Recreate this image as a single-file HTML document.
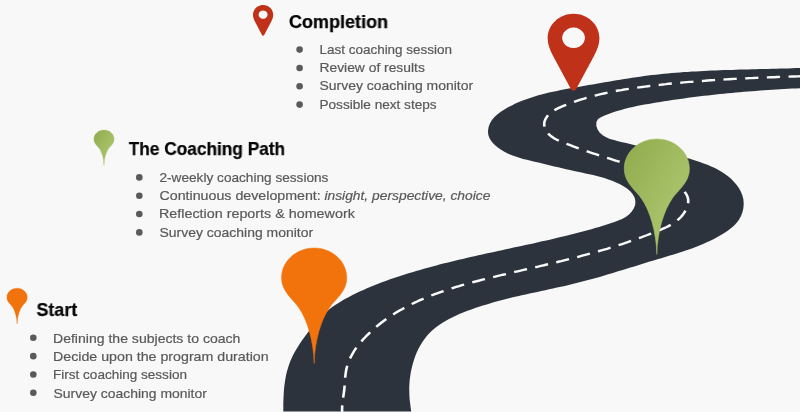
<!DOCTYPE html>
<html lang="en"><head><meta charset="utf-8"><title>The Coaching Path</title>
<style>
html,body{margin:0;padding:0}
body{width:800px;height:412px;overflow:hidden;background:#f8f8f8;position:relative;font-family:"Liberation Sans",Arial,sans-serif}
svg.art{position:absolute;left:0;top:0}
.h{position:absolute;font-weight:bold;font-size:18.1px;line-height:20px;color:#060606;-webkit-text-stroke:0.25px #060606;white-space:nowrap;margin:0;transform-origin:0 50%;will-change:transform}
ul{position:absolute;margin:0;padding:0;list-style:none}
li{position:relative;height:18.33px;line-height:18.33px;font-size:12.8px;color:#595959;white-space:nowrap}
li .t{display:inline-block;transform-origin:0 50%;will-change:transform;-webkit-text-stroke:0.2px #595959}
</style></head><body>
<svg class="art" width="800" height="412" viewBox="0 0 800 412">
<defs>
<linearGradient id="gg" x1="0" y1="0" x2="1" y2="1"><stop offset="0" stop-color="#8fab4c"/><stop offset="0.6" stop-color="#a6c067"/><stop offset="1" stop-color="#abc56e"/></linearGradient>
<path id="pin" d="M0,0 C18.00,0.00 32.60,13.20 32.60,29.50 C32.60,43.50 20.90,50.90 15.30,59.20 C7.00,71.00 0.50,92.00 0.00,114.50 C-0.50,92.00 -7.00,71.00 -15.30,59.20 C-20.90,50.90 -32.60,43.50 -32.60,29.50 C-32.60,13.20 -18.00,0.00 0.00,0.00 Z"/>
<path id="mark" d="M0,0 C14.3,0 25.9,11 25.9,24.5 C25.9,31 23.5,36.3 20.3,42.5 L3.2,74.2 C2.2,77.9 -2.2,77.9 -3.2,74.2 L-20.3,42.5 C-23.5,36.3 -25.9,31 -25.9,24.5 C-25.9,11 -14.3,0 0,0 Z M0,13.85 A11.4,10.25 0 1 0 0.01,13.85 Z" fill-rule="evenodd"/>
</defs>
<path d="M283.4,416.0 L283.3,412.0 L283.3,408.1 L283.3,404.1 L283.4,400.1 L283.6,396.0 L283.8,392.0 L284.1,387.9 L284.6,383.9 L285.2,379.9 L285.9,375.9 L286.8,372.0 L287.9,368.2 L289.1,364.4 L290.5,360.7 L292.2,357.1 L293.9,353.6 L295.9,350.1 L297.9,346.7 L300.1,343.3 L302.3,340.0 L304.7,336.7 L307.1,333.4 L309.6,330.2 L312.1,327.1 L314.7,323.9 L317.3,320.9 L320.0,317.9 L322.8,315.1 L325.7,312.4 L328.8,309.8 L331.9,307.3 L335.2,305.0 L338.5,302.9 L342.0,300.8 L345.4,298.8 L349.0,296.9 L352.5,295.1 L356.1,293.3 L359.7,291.6 L363.4,289.9 L367.0,288.3 L370.7,286.7 L374.4,285.2 L378.2,283.8 L381.9,282.3 L385.7,280.9 L389.4,279.6 L393.2,278.3 L397.0,277.0 L400.9,275.8 L404.7,274.5 L408.5,273.3 L412.3,272.2 L416.2,271.0 L420.0,269.9 L423.9,268.8 L427.8,267.7 L431.6,266.7 L435.5,265.7 L439.4,264.6 L443.3,263.6 L447.1,262.7 L451.0,261.7 L454.9,260.8 L458.8,259.8 L462.7,258.9 L466.6,258.0 L470.5,257.1 L474.5,256.2 L478.4,255.3 L482.3,254.4 L486.2,253.6 L490.1,252.7 L494.0,251.9 L498.0,251.0 L501.9,250.2 L505.8,249.3 L509.7,248.5 L513.6,247.6 L517.5,246.8 L521.5,245.9 L525.4,245.1 L529.3,244.2 L533.2,243.4 L537.1,242.5 L541.0,241.6 L544.9,240.8 L548.8,239.9 L552.7,239.0 L556.6,238.1 L560.5,237.1 L564.3,236.2 L568.2,235.2 L572.1,234.3 L576.0,233.3 L579.8,232.3 L583.7,231.3 L587.5,230.3 L591.4,229.2 L595.2,228.1 L599.1,227.0 L602.9,225.8 L606.8,224.6 L610.6,223.3 L614.5,222.0 L618.3,220.6 L622.1,219.0 L625.7,217.0 L629.0,214.5 L631.8,211.5 L633.9,208.2 L635.2,204.7 L635.4,201.1 L634.6,197.6 L632.9,194.4 L630.5,191.4 L627.4,188.8 L623.9,186.4 L620.1,184.3 L616.1,182.5 L612.2,180.8 L608.3,179.4 L604.5,178.1 L600.7,177.0 L596.9,176.0 L593.1,175.1 L589.3,174.2 L585.5,173.4 L581.7,172.6 L577.8,171.8 L574.0,170.9 L570.0,170.1 L566.1,169.2 L562.2,168.3 L558.2,167.3 L554.2,166.4 L550.3,165.5 L546.3,164.5 L542.4,163.6 L538.5,162.6 L534.6,161.7 L530.7,160.7 L526.9,159.8 L523.1,158.9 L519.4,157.8 L515.6,156.6 L511.9,155.3 L508.2,153.7 L504.4,151.8 L500.7,149.6 L497.2,147.1 L494.0,144.3 L491.4,141.3 L489.4,138.0 L488.2,134.4 L488.0,130.7 L488.6,127.0 L489.9,123.4 L491.9,120.0 L494.5,117.0 L497.5,114.2 L500.8,111.7 L504.4,109.4 L508.1,107.3 L511.8,105.4 L515.4,103.6 L519.0,102.0 L522.7,100.5 L526.4,99.2 L530.1,97.9 L533.8,96.7 L537.6,95.6 L541.4,94.5 L545.3,93.5 L549.1,92.6 L553.0,91.7 L557.0,90.9 L560.9,90.1 L564.9,89.3 L568.8,88.6 L572.8,87.9 L576.8,87.2 L580.8,86.5 L584.7,85.8 L588.7,85.1 L592.7,84.4 L596.6,83.7 L600.6,83.0 L604.5,82.3 L608.5,81.7 L612.4,81.0 L616.4,80.3 L620.3,79.7 L624.3,79.0 L628.2,78.4 L632.2,77.8 L636.1,77.2 L640.1,76.7 L644.0,76.1 L648.0,75.6 L651.9,75.1 L655.9,74.7 L659.9,74.2 L663.9,73.8 L667.8,73.4 L671.8,73.1 L675.8,72.7 L679.8,72.4 L683.8,72.1 L687.8,71.9 L691.8,71.6 L695.8,71.4 L699.8,71.2 L703.8,70.9 L707.8,70.8 L711.8,70.6 L715.8,70.4 L719.9,70.3 L723.9,70.1 L727.9,70.0 L731.9,69.9 L735.9,69.7 L739.9,69.6 L743.9,69.5 L748.0,69.4 L752.0,69.3 L756.0,69.2 L760.0,69.1 L764.0,69.0 L768.0,68.9 L772.0,68.8 L776.0,68.7 L780.0,68.6 L784.0,68.5 L788.0,68.4 L792.0,68.3 L796.0,68.1 L800.0,68.0 L804.0,67.8 L804.0,88.1 L800.0,88.2 L796.0,88.4 L792.0,88.6 L788.0,88.8 L784.0,89.0 L780.0,89.3 L776.0,89.5 L772.0,89.7 L768.0,90.0 L764.0,90.3 L760.0,90.6 L756.0,90.9 L751.9,91.2 L747.9,91.5 L743.9,91.8 L739.9,92.2 L735.9,92.5 L731.9,92.9 L727.9,93.3 L723.9,93.7 L719.9,94.1 L715.9,94.5 L711.9,94.9 L707.9,95.4 L703.9,95.8 L699.9,96.3 L695.9,96.8 L691.9,97.3 L687.9,97.8 L684.0,98.4 L680.0,98.9 L676.0,99.5 L672.1,100.1 L668.1,100.7 L664.2,101.3 L660.2,101.9 L656.3,102.6 L652.4,103.2 L648.5,103.9 L644.5,104.6 L640.6,105.3 L636.7,106.1 L632.8,106.9 L628.9,107.8 L625.0,108.8 L621.1,109.9 L617.1,111.1 L613.2,112.3 L609.2,113.7 L605.2,115.3 L601.3,117.0 L598.1,119.1 L596.4,122.1 L596.3,125.7 L597.6,129.4 L599.8,132.7 L602.7,135.3 L606.1,137.3 L609.9,138.9 L614.0,140.1 L618.1,141.2 L622.2,142.2 L626.2,143.1 L630.1,144.0 L633.9,145.0 L637.8,145.9 L641.6,146.7 L645.5,147.6 L649.3,148.5 L653.2,149.4 L657.1,150.3 L661.0,151.2 L664.8,152.1 L668.7,153.1 L672.6,154.0 L676.5,155.0 L680.4,156.1 L684.3,157.2 L688.2,158.3 L692.1,159.5 L695.9,160.7 L699.8,162.0 L703.7,163.4 L707.5,164.8 L711.2,166.4 L714.9,168.1 L718.5,170.0 L721.9,172.0 L725.2,174.2 L728.4,176.6 L731.3,179.1 L734.1,182.0 L736.7,185.0 L739.0,188.3 L740.9,191.8 L742.4,195.6 L743.4,199.6 L743.7,203.7 L743.4,208.0 L742.5,212.1 L741.0,216.0 L739.1,219.6 L736.7,222.8 L733.9,225.7 L730.9,228.3 L727.7,230.7 L724.3,232.9 L720.9,235.0 L717.4,237.0 L713.9,238.9 L710.3,240.7 L706.7,242.3 L703.1,244.0 L699.4,245.5 L695.7,247.0 L691.9,248.4 L688.1,249.7 L684.3,251.0 L680.5,252.3 L676.7,253.5 L672.8,254.7 L669.0,255.8 L665.1,257.0 L661.3,258.2 L657.4,259.3 L653.5,260.5 L649.7,261.6 L645.8,262.8 L642.0,264.0 L638.1,265.2 L634.3,266.4 L630.4,267.6 L626.6,268.8 L622.7,269.9 L618.9,271.1 L615.1,272.3 L611.2,273.5 L607.4,274.6 L603.5,275.7 L599.7,276.9 L595.8,278.0 L592.0,279.0 L588.1,280.1 L584.2,281.1 L580.3,282.1 L576.5,283.1 L572.6,284.0 L568.7,285.0 L564.8,285.9 L560.9,286.7 L557.0,287.6 L553.0,288.5 L549.1,289.3 L545.2,290.2 L541.3,291.0 L537.4,291.9 L533.5,292.7 L529.5,293.6 L525.6,294.4 L521.7,295.3 L517.8,296.2 L513.9,297.1 L510.0,298.1 L506.1,299.0 L502.2,300.0 L498.3,301.1 L494.4,302.1 L490.6,303.2 L486.7,304.4 L482.8,305.6 L479.0,306.8 L475.1,308.1 L471.3,309.4 L467.5,310.8 L463.7,312.3 L459.9,313.8 L456.2,315.5 L452.6,317.2 L449.0,319.0 L445.5,320.9 L442.1,323.0 L438.8,325.2 L435.7,327.6 L432.7,330.1 L429.8,332.8 L427.2,335.6 L424.7,338.7 L422.4,341.9 L420.3,345.4 L418.3,349.0 L416.6,352.7 L415.1,356.5 L413.8,360.4 L412.6,364.4 L411.6,368.4 L410.8,372.3 L410.2,376.2 L409.7,380.1 L409.4,384.1 L409.2,388.0 L409.3,392.0 L409.4,395.9 L409.7,400.0 L410.2,404.0 L410.7,408.1 L411.3,412.1 L411.8,416.0 Z" fill="#2c333c"/>
<g transform="scale(1,0.92)"><path d="M804.0,82.8 L801.0,82.9 L798.0,83.0 L795.0,83.1 L792.0,83.2 L789.0,83.3 L786.0,83.4 L783.0,83.5 L780.0,83.6 L777.0,83.7 L774.0,83.9 L771.0,84.0 L768.0,84.1 L765.0,84.2 L762.0,84.4 L759.0,84.5 L756.0,84.6 L752.9,84.8 L749.9,84.9 L746.9,85.1 L743.9,85.2 L740.9,85.4 L737.9,85.6 L734.9,85.7 L731.9,85.9 L728.9,86.1 L725.9,86.3 L722.8,86.5 L719.8,86.7 L716.8,86.9 L713.8,87.1 L710.8,87.3 L707.8,87.5 L704.8,87.8 L701.8,88.0 L698.8,88.3 L695.8,88.5 L692.8,88.8 L689.8,89.0 L686.8,89.3 L683.8,89.6 L680.8,89.9 L677.8,90.2 L674.8,90.5 L671.8,90.8 L668.8,91.1 L665.8,91.5 L662.9,91.8 L659.9,92.2 L656.9,92.5 L653.9,92.9 L650.9,93.3 L648.0,93.7 L645.0,94.1 L642.0,94.5 L639.1,94.9 L636.1,95.4 L633.1,95.8 L630.2,96.3 L627.2,96.8 L624.3,97.3 L621.3,97.9 L618.4,98.4 L615.5,99.0 L612.5,99.6 L609.6,100.3 L606.7,100.9 L603.8,101.6 L600.8,102.3 L597.9,103.1 L595.0,103.9 L592.1,104.7 L589.2,105.6 L586.3,106.5 L583.5,107.4 L580.6,108.4 L577.7,109.4 L574.8,110.4 L572.0,111.5 L569.1,112.7 L566.2,113.9 L563.4,115.1 L560.6,116.4 L557.8,117.8 L555.2,119.3 L552.7,121.0 L550.4,122.8 L548.4,124.9 L546.7,127.2 L545.3,129.8 L544.4,132.6 L544.2,135.5 L544.6,138.4 L545.6,141.2 L547.1,143.8 L549.0,146.2 L551.2,148.2 L553.7,150.0 L556.3,151.6 L559.0,152.9 L561.8,154.2 L564.6,155.4 L567.4,156.7 L570.2,157.8 L573.1,159.0 L575.9,160.1 L578.7,161.3 L581.5,162.4 L584.3,163.4 L587.2,164.5 L590.0,165.6 L592.8,166.6 L595.6,167.6 L598.5,168.6 L601.3,169.6 L604.1,170.6 L607.0,171.6 L609.8,172.5 L612.6,173.5 L615.5,174.5 L618.3,175.4 L621.1,176.3 L623.9,177.3 L626.8,178.2 L629.6,179.2 L632.4,180.1 L635.2,181.1 L638.0,182.1 L640.8,183.1 L643.6,184.2 L646.4,185.3 L649.2,186.4 L652.0,187.6 L654.7,188.8 L657.5,190.1 L660.2,191.4 L663.0,192.8 L665.7,194.3 L668.4,195.8 L671.1,197.4 L673.8,199.1 L676.4,200.9 L678.9,202.8 L681.2,204.8 L683.3,206.9 L685.1,209.2 L686.6,211.6 L687.6,214.2 L688.2,216.9 L688.2,219.8 L687.7,222.8 L686.8,225.8 L685.6,228.7 L684.1,231.5 L682.4,234.0 L680.5,236.4 L678.4,238.5 L676.3,240.5 L673.9,242.3 L671.5,244.0 L668.9,245.5 L666.3,247.0 L663.6,248.3 L660.9,249.6 L658.1,250.9 L655.3,252.1 L652.4,253.3 L649.6,254.5 L646.8,255.7 L644.0,256.8 L641.2,258.0 L638.3,259.1 L635.5,260.2 L632.7,261.3 L629.8,262.4 L627.0,263.5 L624.2,264.5 L621.3,265.5 L618.5,266.5 L615.6,267.5 L612.8,268.5 L609.9,269.4 L607.1,270.4 L604.2,271.3 L601.4,272.2 L598.5,273.1 L595.7,274.0 L592.8,274.9 L590.0,275.7 L587.1,276.6 L584.2,277.4 L581.4,278.2 L578.5,279.1 L575.6,279.9 L572.7,280.7 L569.9,281.4 L567.0,282.2 L564.1,283.0 L561.2,283.8 L558.3,284.5 L555.5,285.3 L552.6,286.1 L549.7,286.8 L546.8,287.5 L543.9,288.3 L541.0,289.0 L538.1,289.8 L535.2,290.5 L532.3,291.2 L529.4,292.0 L526.4,292.7 L523.5,293.4 L520.6,294.2 L517.7,294.9 L514.8,295.6 L511.8,296.4 L508.9,297.1 L506.0,297.9 L503.0,298.6 L500.1,299.4 L497.1,300.1 L494.2,300.9 L491.3,301.7 L488.3,302.4 L485.4,303.2 L482.4,304.0 L479.5,304.9 L476.6,305.7 L473.6,306.5 L470.7,307.4 L467.8,308.2 L464.9,309.1 L462.0,310.0 L459.1,311.0 L456.2,311.9 L453.3,312.9 L450.5,313.8 L447.6,314.9 L444.8,315.9 L441.9,316.9 L439.1,318.0 L436.3,319.1 L433.5,320.2 L430.8,321.4 L428.0,322.6 L425.3,323.8 L422.6,325.1 L419.9,326.3 L417.2,327.7 L414.6,329.0 L411.9,330.4 L409.3,331.8 L406.7,333.3 L404.2,334.7 L401.6,336.3 L399.1,337.8 L396.6,339.5 L394.2,341.1 L391.7,342.8 L389.3,344.5 L386.9,346.3 L384.6,348.1 L382.3,350.0 L380.0,351.9 L377.7,353.9 L375.5,355.9 L373.3,358.0 L371.2,360.1 L369.1,362.3 L367.0,364.5 L365.0,366.8 L363.0,369.1 L361.1,371.5 L359.2,373.9 L357.4,376.4 L355.7,379.0 L354.1,381.5 L352.7,384.2 L351.3,386.9 L350.0,389.6 L348.9,392.4 L347.9,395.2 L347.1,398.1 L346.4,401.1 L345.9,404.0 L345.5,407.1 L345.2,410.1 L345.0,413.2 L344.8,416.2 L344.6,419.3 L344.4,422.3 L344.1,425.3 L343.7,428.2 L343.3,431.2 L342.9,434.1 L342.6,437.0 L342.3,440.0 L342.1,443.0 L342.1,446.0 L342.2,449.1 L342.5,452.2" fill="none" stroke="#fafafa" stroke-width="2.6" stroke-dasharray="13.25 8.45" stroke-dashoffset="19.45"/></g>
<use href="#mark" transform="translate(573.55,13.7)" fill="#c0311a"/>
<use href="#pin" transform="translate(656.85,139) scale(1,1.008)" fill="url(#gg)" stroke="#a9c36b" stroke-width="0.5"/>
<use href="#pin" transform="translate(314.15,248) scale(1,1.009)" fill="#f2720c" stroke="#f2720c" stroke-width="0.5"/>
<use href="#mark" transform="translate(263.1,5) scale(0.391,0.4)" fill="#c0311a"/>
<use href="#pin" transform="translate(104,130) scale(0.31)" fill="url(#gg)" stroke="#a3bd63" stroke-width="1.2"/>
<use href="#pin" transform="translate(17.1,288.2) scale(0.312)" fill="#f2720c" stroke="#f2720c" stroke-width="1.2"/>
<rect x="0" y="411" width="800" height="1" fill="#f8f8f8" opacity="0.5"/>
<g fill="#5a5a5a"><circle cx="299.6" cy="49.60" r="3.3"/><circle cx="299.6" cy="67.93" r="3.3"/><circle cx="299.6" cy="86.26" r="3.3"/><circle cx="299.6" cy="104.59" r="3.3"/><circle cx="139.3" cy="177.40" r="3.3"/><circle cx="139.3" cy="195.73" r="3.3"/><circle cx="139.3" cy="214.06" r="3.3"/><circle cx="139.3" cy="232.39" r="3.3"/><circle cx="33.3" cy="337.80" r="3.3"/><circle cx="33.3" cy="356.13" r="3.3"/><circle cx="33.3" cy="374.46" r="3.3"/><circle cx="33.3" cy="392.79" r="3.3"/></g>
</svg>

<h2 class="h" id="h1" style="left:289px;top:12.13px;transform:translateX(0.00px) scaleX(0.9949)">Completion</h2>
<ul style="left:320px;top:40.8px">
<li><span class="t" id="c1" style="transform:translateX(-0.50px) scaleX(1.0523)">Last coaching session</span></li>
<li><span class="t" id="c2" style="transform:translateX(-0.50px) scaleX(1.0807)">Review of results</span></li>
<li><span class="t" id="c3" style="transform:translateX(-0.50px) scaleX(1.0909)">Survey coaching monitor</span></li>
<li><span class="t" id="c4" style="transform:translateX(-0.50px) scaleX(1.0621)">Possible next steps</span></li>
</ul>

<h2 class="h" id="h2" style="left:129px;top:139.43px;transform:translateX(-0.25px) scaleX(0.9540)">The Coaching Path</h2>
<ul style="left:160px;top:168.7px">
<li><span class="t" id="p1" style="transform:translateX(-0.50px) scaleX(1.0650)">2-weekly coaching sessions</span></li>
<li><span class="t" id="p2" style="transform:translateX(-0.50px) scaleX(1.1112)">Continuous development:</span> <i class="t" id="q2" style="transform:translateX(15.40px) scaleX(1.0806)">insight, perspective, choice</i></li>
<li><span class="t" id="p3" style="transform:translateX(-1.00px) scaleX(1.1192)">Reflection reports &amp; homework</span></li>
<li><span class="t" id="p4" style="transform:translateX(-0.50px) scaleX(1.0909)">Survey coaching monitor</span></li>
</ul>

<h2 class="h" id="h3" style="left:36.5px;top:300.33px;transform:translateX(-0.50px) scaleX(0.9878)">Start</h2>
<ul style="left:54px;top:329.6px">
<li><span class="t" id="s1" style="transform:translateX(-1.00px) scaleX(1.0976)">Defining the subjects to coach</span></li>
<li><span class="t" id="s2" style="transform:translateX(-1.00px) scaleX(1.1104)">Decide upon the program duration</span></li>
<li><span class="t" id="s3" style="transform:translateX(-1.00px) scaleX(1.0581)">First coaching session</span></li>
<li><span class="t" id="s4" style="transform:translateX(-0.50px) scaleX(1.0891)">Survey coaching monitor</span></li>
</ul>
</body></html>
